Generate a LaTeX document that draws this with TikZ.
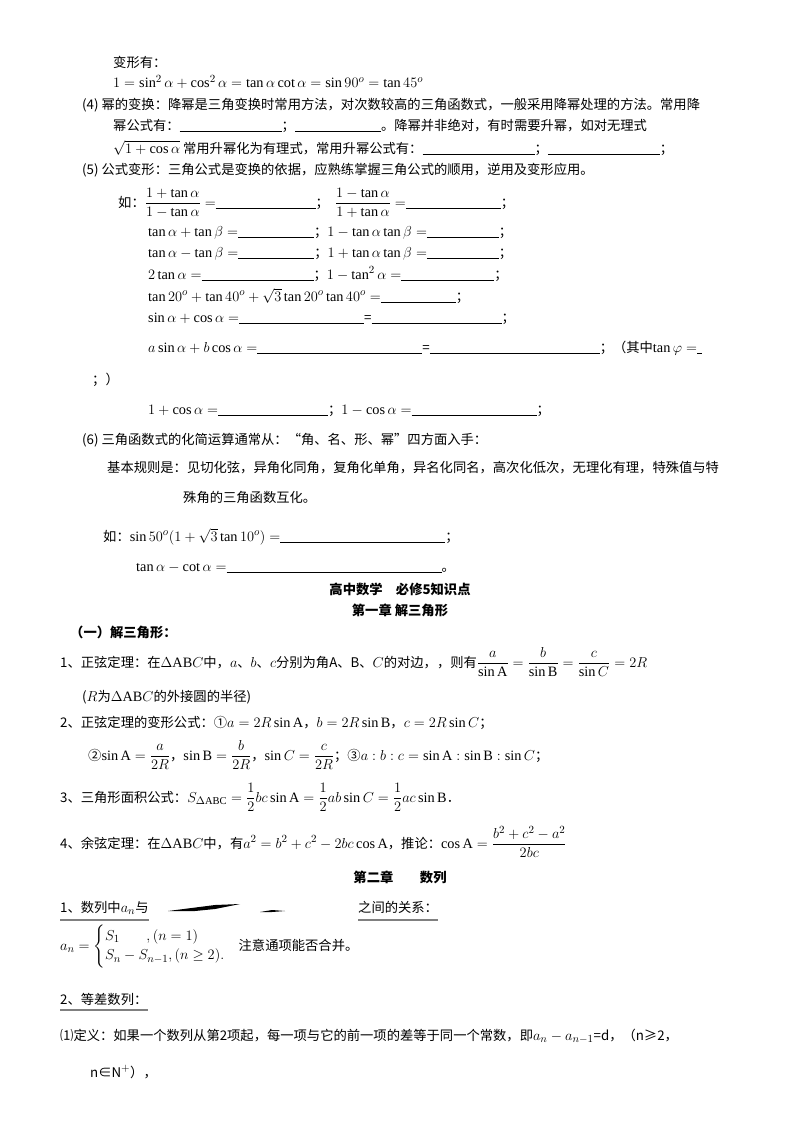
\documentclass[tikz,border=0pt]{standalone}
\usepackage{amsmath}
\usepackage{fontspec}
\setmainfont{Liberation Serif}
\newfontfamily\cjk{Noto Sans CJK SC}
\DeclareMathSizes{13.3}{14.3}{10.5}{8.5}
\newcommand\bl[1]{\rule[-2pt]{#1pt}{0.6pt}}
\begin{document}
\begin{tikzpicture}[x=1pt,y=-1pt,
  t/.style={anchor=base west,inner sep=0,font=\cjk\fontsize{13.3}{16}\selectfont},
  c/.style={anchor=base,inner sep=0,font=\cjk\bfseries\fontsize{13.3}{16}\selectfont}]
\useasboundingbox[fill=white] (0,0) rectangle (800,1132);
\node[t] (l1) at (113,67) {变形有：};
\node[t] (l2) at (113,88) {$1=\sin^2\alpha+\cos^2\alpha=\tan\alpha\cot\alpha=\sin 90^o=\tan 45^o$};
\node[t] (l3) at (82,109) {(4) 幂的变换：降幂是三角变换时常用方法，对次数较高的三角函数式，一般采用降幂处理的方法。常用降};
\node[t] (l4) at (113,130) {幂公式有：\bl{102}；\bl{86}。降幂并非绝对，有时需要升幂，如对无理式};
\node[t] (l5) at (113,153) {$\sqrt{1+\cos\alpha}$ 常用升幂化为有理式，常用升幂公式有：\bl{112}；\bl{112}；};
\node[t] (l6) at (82,174) {(5) 公式变形：三角公式是变换的依据，应熟练掌握三角公式的顺用，逆用及变形应用。};
\node[t] (l7) at (118,207) {如：$\dfrac{1+\tan\alpha}{1-\tan\alpha}=$\bl{100}；\ \ $\dfrac{1-\tan\alpha}{1+\tan\alpha}=$\bl{95}；};
\node[t] (l8) at (148,236) {$\tan\alpha+\tan\beta=$\bl{76}；$1-\tan\alpha\tan\beta=$\bl{72}；};
\node[t] (l9) at (148,257) {$\tan\alpha-\tan\beta=$\bl{76}；$1+\tan\alpha\tan\beta=$\bl{72}；};
\node[t] (l10) at (148,279) {$2\tan\alpha=$\bl{112}；$1-\tan^2\alpha=$\bl{93}；};
\node[t] (l11) at (148,301) {$\tan20^o+\tan40^o+\sqrt3\tan20^o\tan40^o=$\bl{75}；};
\node[t] (l12) at (148,322) {$\sin\alpha+\cos\alpha=$\bl{125}=\bl{130}；};
\node[t] (l13) at (148,352) {$a\sin\alpha+b\cos\alpha=$\bl{165}=\bl{170}；（其中$\tan\varphi=$\bl{5}};
\node[t] (l14) at (92,384) {；）};
\node[t] (l15) at (148,414) {$1+\cos\alpha=$\bl{110}；$1-\cos\alpha=$\bl{125}；};
\node[t] (l16) at (82,444) {(6) 三角函数式的化简运算通常从：“角、名、形、幂”四方面入手：};
\node[t] (l17) at (107,472) {基本规则是：见切化弦，异角化同角，复角化单角，异名化同名，高次化低次，无理化有理，特殊值与特};
\node[t] (l18) at (183,502) {殊角的三角函数互化。};
\node[t] (l19) at (103,541) {如：$\sin50^o(1+\sqrt3\tan10^o)=$\bl{165}；};
\node[t] (l20) at (136,571) {$\tan\alpha-\cot\alpha=$\bl{215}。};
\node[c] (h1) at (400,594) {高中数学\quad 必修5知识点};
\node[c] (h2) at (400,615) {第一章\ 解三角形};
\node[t,font=\cjk\bfseries\fontsize{13.3}{16}\selectfont] (s1) at (70,637) {（一）解三角形：};
\node[t] (m1) at (60,667) {1、正弦定理：在$\Delta\mathrm{AB}C$中，$a$、$b$、$c$分别为角A、B、$C$的对边，，则有$\dfrac{a}{\sin\mathrm A}=\dfrac{b}{\sin\mathrm B}=\dfrac{c}{\sin C}=2R$};
\node[t] (m2) at (82,701) {($R$为$\Delta\mathrm{AB}C$的外接圆的半径)};
\node[t] (m3) at (60,727) {2、正弦定理的变形公式：①$a=2R\sin\mathrm A$，$b=2R\sin\mathrm B$，$c=2R\sin C$；};
\node[t] (m4) at (88,760) {②$\sin\mathrm A=\dfrac{a}{2R}$，$\sin\mathrm B=\dfrac{b}{2R}$，$\sin C=\dfrac{c}{2R}$；③$a:b:c=\sin\mathrm A:\sin\mathrm B:\sin C$；};
\node[t] (m5) at (60,802) {3、三角形面积公式：$S_{\Delta\mathrm{ABC}}=\dfrac12bc\sin\mathrm A=\dfrac12ab\sin C=\dfrac12ac\sin\mathrm B$．};
\node[t] (m6) at (60,848) {4、余弦定理：在$\Delta\mathrm{AB}C$中，有$a^2=b^2+c^2-2bc\cos\mathrm A$，推论：$\cos\mathrm A=\dfrac{b^2+c^2-a^2}{2bc}$};
\node[c] (h3) at (400,882) {第二章\qquad 数列};
\node[t] (n1) at (60,912) {1、数列中$a_n$与};
\node[t] (n1b) at (358,912) {之间的关系：};
\draw[gray,line width=1.2pt] (60,920) -- (n1.east|-0,920);
\draw[gray,line width=1.2pt] (n1b.west|-0,920) -- (n1b.east|-0,920);
\fill (168,911) -- (215,905) -- (240,904) -- (215,909) -- (195,911) -- cycle;
\fill (260,912) -- (272,910) -- (285,911) -- (272,912) -- cycle;
\node[t] (n2) at (60,950) {$a_n=\begin{cases}S_1\qquad,(n=1)\\ S_n-S_{n-1},(n\ge2).\end{cases}$注意通项能否合并。};
\node[t] (n3) at (60,1004) {2、等差数列：};
\draw[gray,line width=1.2pt] (60,1010) -- (n3.east|-0,1010);
\node[t] (n4) at (60,1040) {⑴定义：如果一个数列从第2项起，每一项与它的前一项的差等于同一个常数，即$a_n-a_{n-1}$=d，（n≥2，};
\node[t] (n5) at (90,1077) {n∈N$^+$），};
\end{tikzpicture}
\end{document}
